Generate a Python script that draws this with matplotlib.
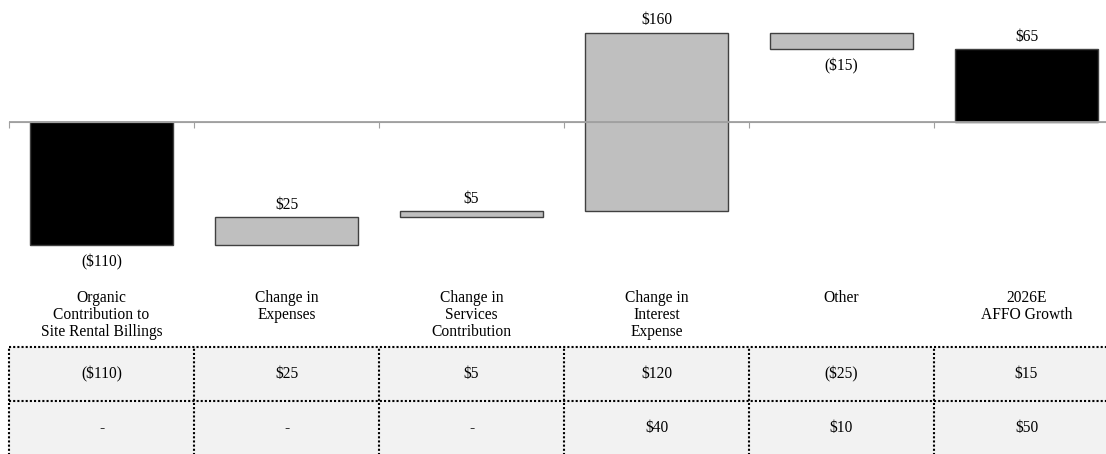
import matplotlib.pyplot as plt
from matplotlib.patches import Rectangle

categories = ['Organic\nContribution to\nSite Rental Billings', 'Change in\nExpenses',
              'Change in\nServices\nContribution', 'Change in\nInterest\nExpense',
              'Other', '2026E\nAFFO Growth']
changes = [-110, 25, 5, 160, -15, 65]
is_total = [True, False, False, False, False, True]
bar_labels = ['($110)', '$25', '$5', '$160', '($15)', '$65']
row1 = ['($110)', '$25', '$5', '$120', '($25)', '$15']
row2 = ['-', '-', '-', '$40', '$10', '$50']

plt.rcParams['font.family'] = ['Liberation Serif', 'DejaVu Serif']
FS = 11.2

W, H = 1106, 454
fig = plt.figure(figsize=(W / 100, H / 100), dpi=100)

# chart area: x from 9px to 1119px, y from 10px to 280px
left = 9 / W
width = 1110 / W
ax = fig.add_axes([left, (H - 280) / H, width, 270 / H])
scale = 1.118  # px per unit
ax.set_xlim(-0.5, 5.5)
ax.set_ylim(-(280 - 122) / scale, (122 - 10) / scale)

# waterfall bottoms
bottoms = []
running = 0
for c, tot in zip(changes, is_total):
    if tot:
        bottoms.append(0 if c >= 0 else c)
        running = c
    else:
        lo = min(running, running + c)
        bottoms.append(lo)
        running += c

x = range(len(categories))
heights = [abs(c) for c in changes]
colors = ['black' if t else '#bfbfbf' for t in is_total]
ax.bar(x, heights, bottom=bottoms, width=0.775, color=colors,
       edgecolor='#404040', linewidth=1, zorder=2)

for i, (b, h, c, lab) in enumerate(zip(bottoms, heights, changes, bar_labels)):
    if c >= 0:
        ax.text(i, b + h + 4, lab, ha='center', va='bottom', fontsize=FS)
    else:
        ax.text(i, b - 8, lab, ha='center', va='top', fontsize=FS)

ax.axhline(0, color='#a0a0a0', linewidth=1.3, zorder=3)
ax.set_xticks([i - 0.5 for i in range(len(categories) + 1)])
ax.tick_params(axis='x', length=4, color='#a0a0a0', labelbottom=False, direction='out')
ax.spines['bottom'].set_position(('data', 0))
ax.spines['bottom'].set_color('#a0a0a0')
for s in ['top', 'left', 'right']:
    ax.spines[s].set_visible(False)
ax.set_yticks([])

# category labels
for i, cat in enumerate(categories):
    fig.text(left + width * (i + 0.5) / 6, 1 - 290 / H, cat, ha='center', va='top',
             fontsize=FS, linespacing=1.1)

# table
tab = fig.add_axes([left, (H - 455) / H, width, 108 / H])
tab.set_xlim(0, 6)
tab.set_ylim(0, 2)
tab.axis('off')
tab.add_patch(Rectangle((0, 0), 6, 2, facecolor='#f2f2f2', edgecolor='none'))
dots = dict(color='black', linestyle=(0, (1, 1)), linewidth=1.5, clip_on=False)
for yy in [2, 1]:
    tab.plot([0, 6], [yy, yy], **dots)
for xx in range(7):
    tab.plot([xx, xx], [0, 2], **dots)
for i in range(6):
    tab.text(i + 0.5, 1.5, row1[i], ha='center', va='center', fontsize=FS)
    tab.text(i + 0.5, 0.5, row2[i], ha='center', va='center', fontsize=FS)

fig.savefig('out.png', dpi=100)
